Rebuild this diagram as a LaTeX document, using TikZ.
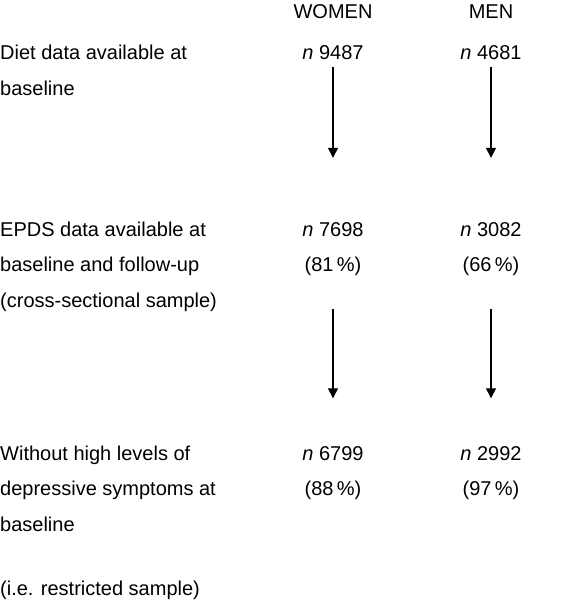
\documentclass[tikz,border=0pt]{standalone}
\usepackage{fontspec}
\setmainfont{Liberation Sans}
\usetikzlibrary{arrows.meta,positioning}

\begin{document}
\begin{tikzpicture}[x=1pt,y=1pt,yscale=-1,
  every node/.style={inner sep=0pt,font=\fontsize{20}{35.5}\selectfont},
  stage/.style={anchor=base west,align=left},
  count/.style={anchor=base,align=center},
  flow/.style={-{Triangle[width=10pt,length=10pt]},line width=1.2pt}]

\useasboundingbox (0,0) rectangle (565,605);

% Column heads
\node[count] (headW) at (333,19) {WOMEN};
\node[count] (headM) at (491,19) {MEN};

% Stages (base = last line)
\node[stage] (diet) at (0,95) {Diet data available at\\baseline};
\node[stage] (epds) at (0,307) {EPDS data available at\\baseline and follow-up\\(cross-sectional sample)};
\node[stage] (nodep) at (0,531) {Without high levels of\\depressive symptoms at\\baseline};
\node[stage] (restr) at (0,595) {(i.e. restricted sample)};

% Counts
\node[count] (w1) at (333,59) {\textit{n}~9487};
\node[count] (m1) at (491,59) {\textit{n}~4681};
\node[count] (w2) at (333,271.5) {\textit{n}~7698\\(81\,\%)};
\node[count] (m2) at (491,271.5) {\textit{n}~3082\\(66\,\%)};
\node[count] (w3) at (333,495.5) {\textit{n}~6799\\(88\,\%)};
\node[count] (m3) at (491,495.5) {\textit{n}~2992\\(97\,\%)};

% Arrows
\draw[flow,shorten <=8pt,shorten >=64pt] (w1.south) -- (w2.north);
\draw[flow,shorten <=8pt,shorten >=64pt] (m1.south) -- (m2.north);
\draw[flow,shorten <=33pt,shorten >=47.5pt] (w2.south) -- (w3.north);
\draw[flow,shorten <=33pt,shorten >=47.5pt] (m2.south) -- (m3.north);

\end{tikzpicture}
\end{document}
